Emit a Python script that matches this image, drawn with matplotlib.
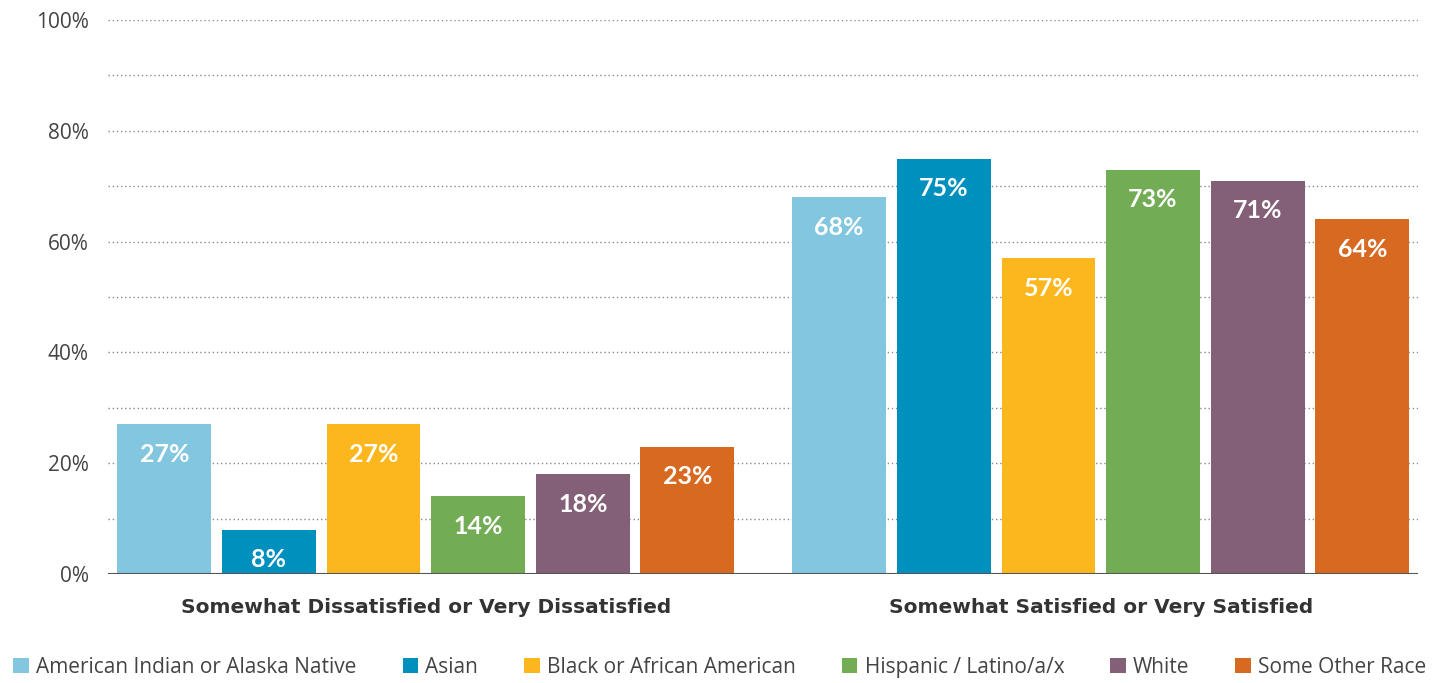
import matplotlib
matplotlib.use("Agg")
import matplotlib.pyplot as plt
import numpy as np
from matplotlib.patches import Patch

categories = ["Somewhat Dissatisfied or Very Dissatisfied", "Somewhat Satisfied or Very Satisfied"]
series_names = ["American Indian or Alaska Native", "Asian", "Black or African American",
                "Hispanic / Latino/a/x", "White", "Some Other Race"]
american_indian = [27, 68]
asian = [8, 75]
black = [27, 57]
hispanic = [14, 73]
white = [18, 71]
other = [23, 64]
series_values = [american_indian, asian, black, hispanic, white, other]
colors = ["#82C6E0", "#0090BE", "#FDB71E", "#72AD55", "#835F78", "#D76921"]
yticks = [0, 20, 40, 60, 80, 100]
ytick_labels = ["0%", "20%", "40%", "60%", "80%", "100%"]

plt.rcParams['font.family'] = ['Open Sans', 'DejaVu Sans']

fig = plt.figure(figsize=(14.4, 6.83), dpi=100)
ax = fig.add_axes([0.075, 0.1596, 0.9097, 0.8111])

x = np.arange(len(categories))
step = 0.155
width = 0.139
n = len(series_values)
for i, (vals, c) in enumerate(zip(series_values, colors)):
    pos = x + (i - (n - 1) / 2) * step
    ax.bar(pos, vals, width=width, color=c, zorder=3)
    for p, v in zip(pos, vals):
        ax.annotate(f"{v}%", xy=(p, v), xytext=(0, -30), textcoords="offset pixels",
                    ha="center", va="center", color="white", fontsize=18,
                    fontweight="bold", family=["Lato", "DejaVu Sans"], zorder=4)

ax.set_xlim(-0.471, 1.47)
ax.set_ylim(0, 100)
for g in range(10, 101, 10):
    ax.axhline(g, color="#8a8a8a", linestyle=(0, (1, 2)), linewidth=1.0, zorder=1)
ax.axhline(0, color="#555555", linewidth=1.5, zorder=5)

ax.set_yticks(yticks)
ax.set_yticklabels(ytick_labels, fontsize=15, color="#444444")
ax.tick_params(axis="y", length=0, pad=14)
ax.set_xticks(x)
ax.set_xticklabels(categories, fontsize=14.5, fontweight="bold", color="#333333",
                   family=["DejaVu Sans"])
ax.tick_params(axis="x", length=0, pad=17)
for s in ax.spines.values():
    s.set_visible(False)

handles = [Patch(facecolor=c, edgecolor="none") for c in colors]
fig.legend(handles, series_names, loc="center", bbox_to_anchor=(0.5, 0.023), ncol=6,
           frameon=False, fontsize=15, handlelength=0.75, handleheight=0.75,
           handletextpad=0.35, columnspacing=2.2, labelcolor="#444444")

fig.savefig("out.png", dpi=100)
